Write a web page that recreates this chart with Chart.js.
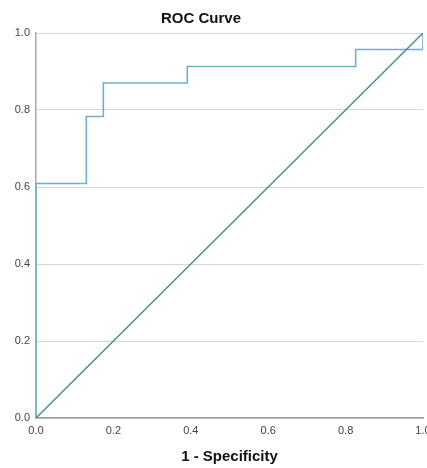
<!DOCTYPE html>
<html>
<head>
<meta charset="utf-8">
<script src="https://cdn.jsdelivr.net/npm/chart.js@4"></script>
<style>
    html, body { margin: 0; padding: 0; background: #ffffff; overflow: hidden; }
    #wrap { width: 437px; height: 468px; }
</style>
</head>
<body>
<div id="wrap"><canvas id="rocChart"></canvas></div>
<script>
// ROC corner points
const fprValues = [0, 0, 0.130, 0.130, 0.174, 0.174, 0.391, 0.391, 0.826, 0.826, 1.0, 1.0];
const tprValues = [0, 0.609, 0.609, 0.783, 0.783, 0.870, 0.870, 0.913, 0.913, 0.957, 0.957, 1.0];
const refLine = [0, 1];
const axisTicks = [0, 0.2, 0.4, 0.6, 0.8, 1.0];

const chartTitle = 'ROC Curve';
const xTitle = '1 - Specificity';

const titlePlugin = {
    id: 'plainTitle',
    afterDraw: function (chart) {
        const ctx = chart.ctx;
        ctx.save();
        ctx.font = 'bold 15px "Liberation Sans", Arial, sans-serif';
        ctx.fillStyle = '#111111';
        ctx.textAlign = 'center';
        ctx.textBaseline = 'middle';
        ctx.fillText(chartTitle, 201, 19);
        ctx.restore();
    }
};

new Chart(document.getElementById('rocChart'), {
    type: 'scatter',
    data: {
        datasets: [
            {
                label: 'Reference',
                data: refLine.map(function (v) { return { x: v, y: v }; }),
                showLine: true,
                borderColor: '#4a8f92',
                borderWidth: 1.5,
                pointRadius: 0,
                order: 0
            },
            {
                label: 'ROC',
                data: fprValues.map(function (v, i) { return { x: v, y: tprValues[i] }; }),
                showLine: true,
                borderColor: '#6eb1cb',
                borderWidth: 1.6,
                pointRadius: 0,
                order: 1
            }
        ]
    },
    options: {
        responsive: true,
        maintainAspectRatio: false,
        animation: false,
        layout: { padding: { top: 33, right: 14, left: 0, bottom: 0 } },
        plugins: {
            legend: { display: false },
            tooltip: { enabled: false }
        },
        scales: {
            x: {
                type: 'linear',
                min: 0,
                max: 1,
                afterBuildTicks: function (scale) {
                    scale.ticks = axisTicks.map(function (v) { return { value: v }; });
                },
                afterFit: function (scale) { scale.height = 50; },
                ticks: {
                    color: '#444444',
                    font: { family: '"Liberation Sans", Arial, sans-serif', size: 11 },
                    padding: 6,
                    maxRotation: 0,
                    callback: function (v) { return v.toFixed(1); }
                },
                grid: { display: false, drawTicks: false },
                border: { display: true, color: '#9a9a9a', width: 1.5 },
                title: {
                    display: true,
                    text: xTitle,
                    color: '#111111',
                    font: { family: '"Liberation Sans", Arial, sans-serif', size: 15, weight: 'bold' },
                    padding: { top: 0, bottom: 2 }
                }
            },
            y: {
                type: 'linear',
                min: 0,
                max: 1,
                afterBuildTicks: function (scale) {
                    scale.ticks = axisTicks.map(function (v) { return { value: v }; });
                },
                afterFit: function (scale) { scale.width = 36; },
                ticks: {
                    color: '#444444',
                    font: { family: '"Liberation Sans", Arial, sans-serif', size: 11 },
                    padding: 6,
                    callback: function (v) { return v.toFixed(1); }
                },
                grid: { color: '#d6d6d6', lineWidth: 1, drawTicks: false },
                border: { display: true, color: '#a8a8a8', width: 1.5 }
            }
        }
    },
    plugins: [titlePlugin]
});
</script>
</body>
</html>
